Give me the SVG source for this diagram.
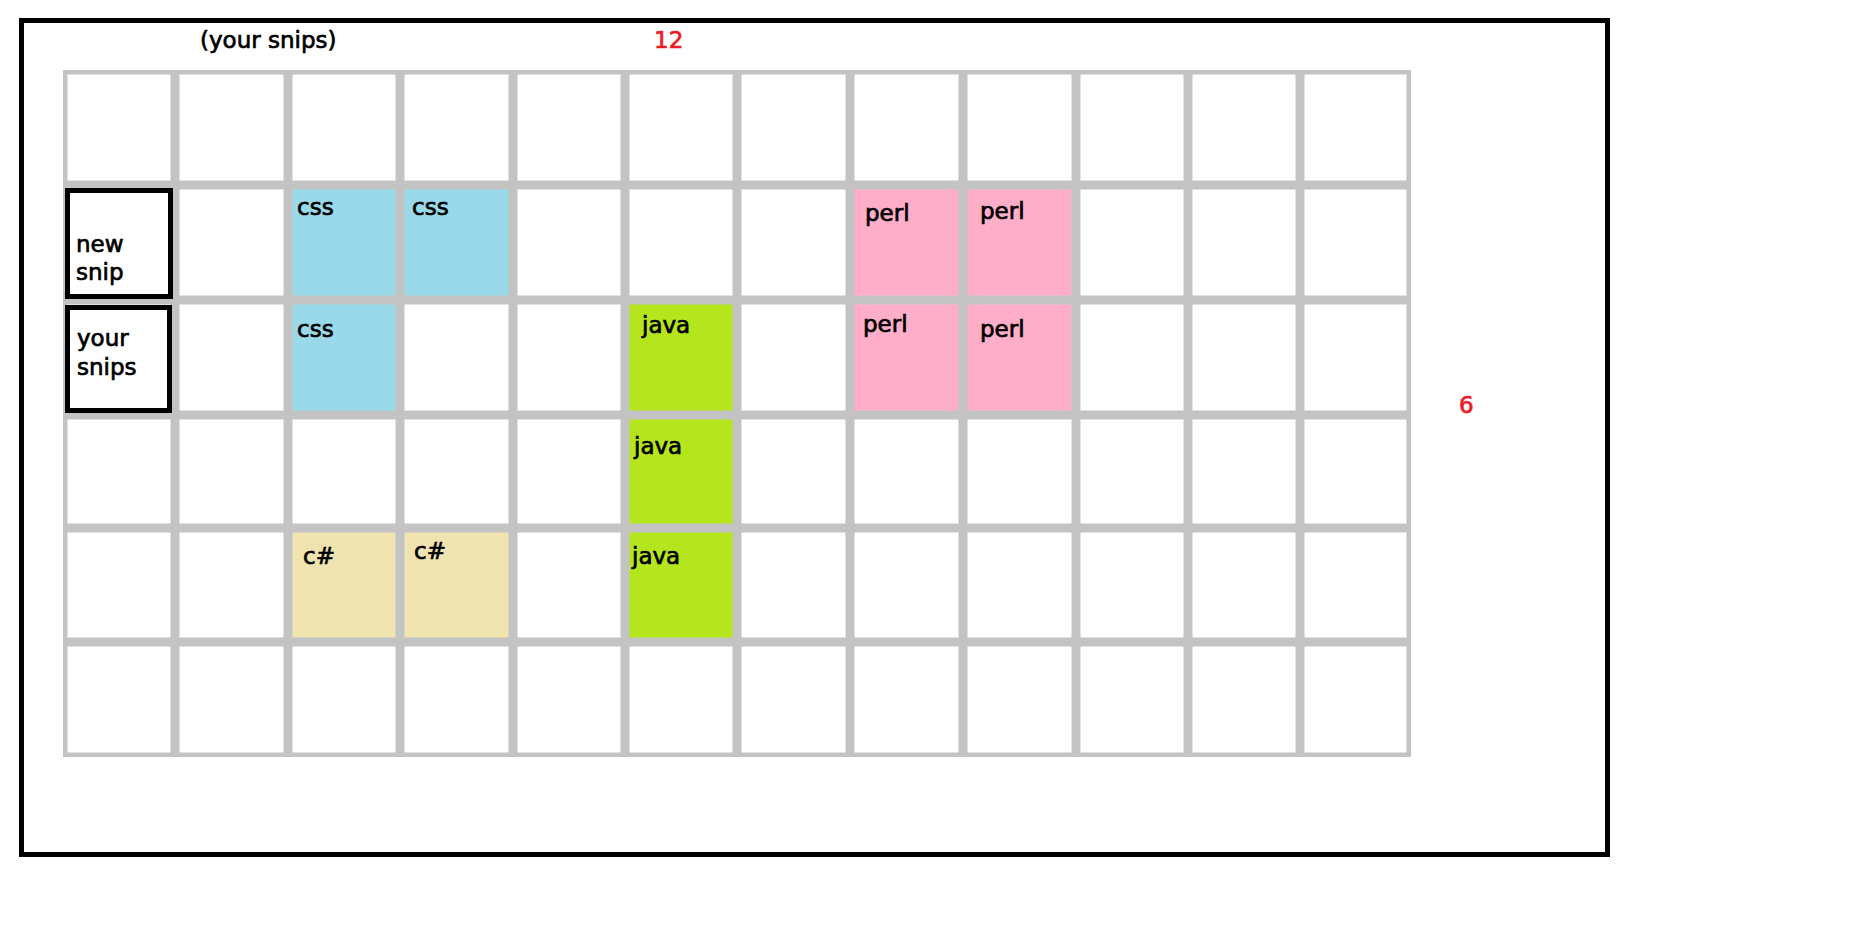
<svg xmlns="http://www.w3.org/2000/svg" width="1874" height="943" viewBox="0 0 1874 943">
<style>
  .frame{fill:none;stroke:#000;stroke-width:5}
  .c{fill:#fff;stroke:#c3c3c3;stroke-width:4.5}
  .css{fill:#99d9ea}
  .perl{fill:#ffaec9}
  .java{fill:#b5e61d}
  .cs{fill:#efe4b0}
  .box{fill:none;stroke:#000;stroke-width:5}
  text{font-family:"DejaVu Sans","Liberation Sans",sans-serif;font-size:23px;fill:#000;stroke:#000;stroke-width:0.7}
  .red{fill:#ed1c24;stroke:#ed1c24}
</style>
<rect x="0" y="0" width="1874" height="943" fill="#fff"/>
<rect class="frame" x="21.5" y="20.5" width="1586" height="834"/>
<g id="grid">
  <!-- row 1 -->
  <rect class="c" x="65.25" y="72.25" width="107.5" height="110.5"/>
  <rect class="c" x="177.25" y="72.25" width="108.5" height="110.5"/>
  <rect class="c" x="290.25" y="72.25" width="107.5" height="110.5"/>
  <rect class="c" x="402.25" y="72.25" width="108.5" height="110.5"/>
  <rect class="c" x="515.25" y="72.25" width="107.5" height="110.5"/>
  <rect class="c" x="627.25" y="72.25" width="107.5" height="110.5"/>
  <rect class="c" x="739.25" y="72.25" width="108.5" height="110.5"/>
  <rect class="c" x="852.25" y="72.25" width="108.5" height="110.5"/>
  <rect class="c" x="965.25" y="72.25" width="108.5" height="110.5"/>
  <rect class="c" x="1078.25" y="72.25" width="107.5" height="110.5"/>
  <rect class="c" x="1190.25" y="72.25" width="107.5" height="110.5"/>
  <rect class="c" x="1302.25" y="72.25" width="106.5" height="110.5"/>
  <!-- row 2 -->
  <rect class="c" x="65.25" y="187.25" width="107.5" height="110.5"/>
  <rect class="c" x="177.25" y="187.25" width="108.5" height="110.5"/>
  <rect class="c css" x="290.25" y="187.25" width="107.5" height="110.5"/>
  <rect class="c css" x="402.25" y="187.25" width="108.5" height="110.5"/>
  <rect class="c" x="515.25" y="187.25" width="107.5" height="110.5"/>
  <rect class="c" x="627.25" y="187.25" width="107.5" height="110.5"/>
  <rect class="c" x="739.25" y="187.25" width="108.5" height="110.5"/>
  <rect class="c perl" x="852.25" y="187.25" width="108.5" height="110.5"/>
  <rect class="c perl" x="965.25" y="187.25" width="108.5" height="110.5"/>
  <rect class="c" x="1078.25" y="187.25" width="107.5" height="110.5"/>
  <rect class="c" x="1190.25" y="187.25" width="107.5" height="110.5"/>
  <rect class="c" x="1302.25" y="187.25" width="106.5" height="110.5"/>
  <!-- row 3 -->
  <rect class="c" x="65.25" y="302.25" width="107.5" height="110.5"/>
  <rect class="c" x="177.25" y="302.25" width="108.5" height="110.5"/>
  <rect class="c css" x="290.25" y="302.25" width="107.5" height="110.5"/>
  <rect class="c" x="402.25" y="302.25" width="108.5" height="110.5"/>
  <rect class="c" x="515.25" y="302.25" width="107.5" height="110.5"/>
  <rect class="c java" x="627.25" y="302.25" width="107.5" height="110.5"/>
  <rect class="c" x="739.25" y="302.25" width="108.5" height="110.5"/>
  <rect class="c perl" x="852.25" y="302.25" width="108.5" height="110.5"/>
  <rect class="c perl" x="965.25" y="302.25" width="108.5" height="110.5"/>
  <rect class="c" x="1078.25" y="302.25" width="107.5" height="110.5"/>
  <rect class="c" x="1190.25" y="302.25" width="107.5" height="110.5"/>
  <rect class="c" x="1302.25" y="302.25" width="106.5" height="110.5"/>
  <!-- row 4 -->
  <rect class="c" x="65.25" y="417.25" width="107.5" height="108.5"/>
  <rect class="c" x="177.25" y="417.25" width="108.5" height="108.5"/>
  <rect class="c" x="290.25" y="417.25" width="107.5" height="108.5"/>
  <rect class="c" x="402.25" y="417.25" width="108.5" height="108.5"/>
  <rect class="c" x="515.25" y="417.25" width="107.5" height="108.5"/>
  <rect class="c java" x="627.25" y="417.25" width="107.5" height="108.5"/>
  <rect class="c" x="739.25" y="417.25" width="108.5" height="108.5"/>
  <rect class="c" x="852.25" y="417.25" width="108.5" height="108.5"/>
  <rect class="c" x="965.25" y="417.25" width="108.5" height="108.5"/>
  <rect class="c" x="1078.25" y="417.25" width="107.5" height="108.5"/>
  <rect class="c" x="1190.25" y="417.25" width="107.5" height="108.5"/>
  <rect class="c" x="1302.25" y="417.25" width="106.5" height="108.5"/>
  <!-- row 5 -->
  <rect class="c" x="65.25" y="530.25" width="107.5" height="109.5"/>
  <rect class="c" x="177.25" y="530.25" width="108.5" height="109.5"/>
  <rect class="c cs" x="290.25" y="530.25" width="107.5" height="109.5"/>
  <rect class="c cs" x="402.25" y="530.25" width="108.5" height="109.5"/>
  <rect class="c" x="515.25" y="530.25" width="107.5" height="109.5"/>
  <rect class="c java" x="627.25" y="530.25" width="107.5" height="109.5"/>
  <rect class="c" x="739.25" y="530.25" width="108.5" height="109.5"/>
  <rect class="c" x="852.25" y="530.25" width="108.5" height="109.5"/>
  <rect class="c" x="965.25" y="530.25" width="108.5" height="109.5"/>
  <rect class="c" x="1078.25" y="530.25" width="107.5" height="109.5"/>
  <rect class="c" x="1190.25" y="530.25" width="107.5" height="109.5"/>
  <rect class="c" x="1302.25" y="530.25" width="106.5" height="109.5"/>
  <!-- row 6 -->
  <rect class="c" x="65.25" y="644.25" width="107.5" height="110.5"/>
  <rect class="c" x="177.25" y="644.25" width="108.5" height="110.5"/>
  <rect class="c" x="290.25" y="644.25" width="107.5" height="110.5"/>
  <rect class="c" x="402.25" y="644.25" width="108.5" height="110.5"/>
  <rect class="c" x="515.25" y="644.25" width="107.5" height="110.5"/>
  <rect class="c" x="627.25" y="644.25" width="107.5" height="110.5"/>
  <rect class="c" x="739.25" y="644.25" width="108.5" height="110.5"/>
  <rect class="c" x="852.25" y="644.25" width="108.5" height="110.5"/>
  <rect class="c" x="965.25" y="644.25" width="108.5" height="110.5"/>
  <rect class="c" x="1078.25" y="644.25" width="107.5" height="110.5"/>
  <rect class="c" x="1190.25" y="644.25" width="107.5" height="110.5"/>
  <rect class="c" x="1302.25" y="644.25" width="106.5" height="110.5"/>
</g>
<g id="title-your-snips"><text x="200" y="48">(your snips)</text></g>
<g id="count-12"><text class="red" x="654" y="48">12</text></g>
<g id="count-6"><text class="red" x="1459" y="413">6</text></g>
<g id="new-snip">
  <rect class="box" x="67.5" y="190.5" width="103" height="106"/>
  <text x="76" y="252">new</text>
  <text x="76" y="280">snip</text>
</g>
<g id="your-snips">
  <rect class="box" x="67.5" y="307.5" width="102" height="103"/>
  <text x="77" y="346">your</text>
  <text x="77" y="375">snips</text>
</g>
<g id="css-1"><text x="297" y="215">css</text></g>
<g id="css-2"><text x="412" y="215">css</text></g>
<g id="css-3"><text x="297" y="337">css</text></g>
<g id="perl-1"><text x="865" y="221">perl</text></g>
<g id="perl-2"><text x="980" y="219">perl</text></g>
<g id="perl-3"><text x="863" y="332">perl</text></g>
<g id="perl-4"><text x="980" y="337">perl</text></g>
<g id="java-1"><text x="642" y="333">java</text></g>
<g id="java-2"><text x="634" y="454">java</text></g>
<g id="java-3"><text x="632" y="564">java</text></g>
<g id="csharp-1"><text x="303" y="564">c#</text></g>
<g id="csharp-2"><text x="414" y="559">c#</text></g>
<g id="connectors"></g>
</svg>
